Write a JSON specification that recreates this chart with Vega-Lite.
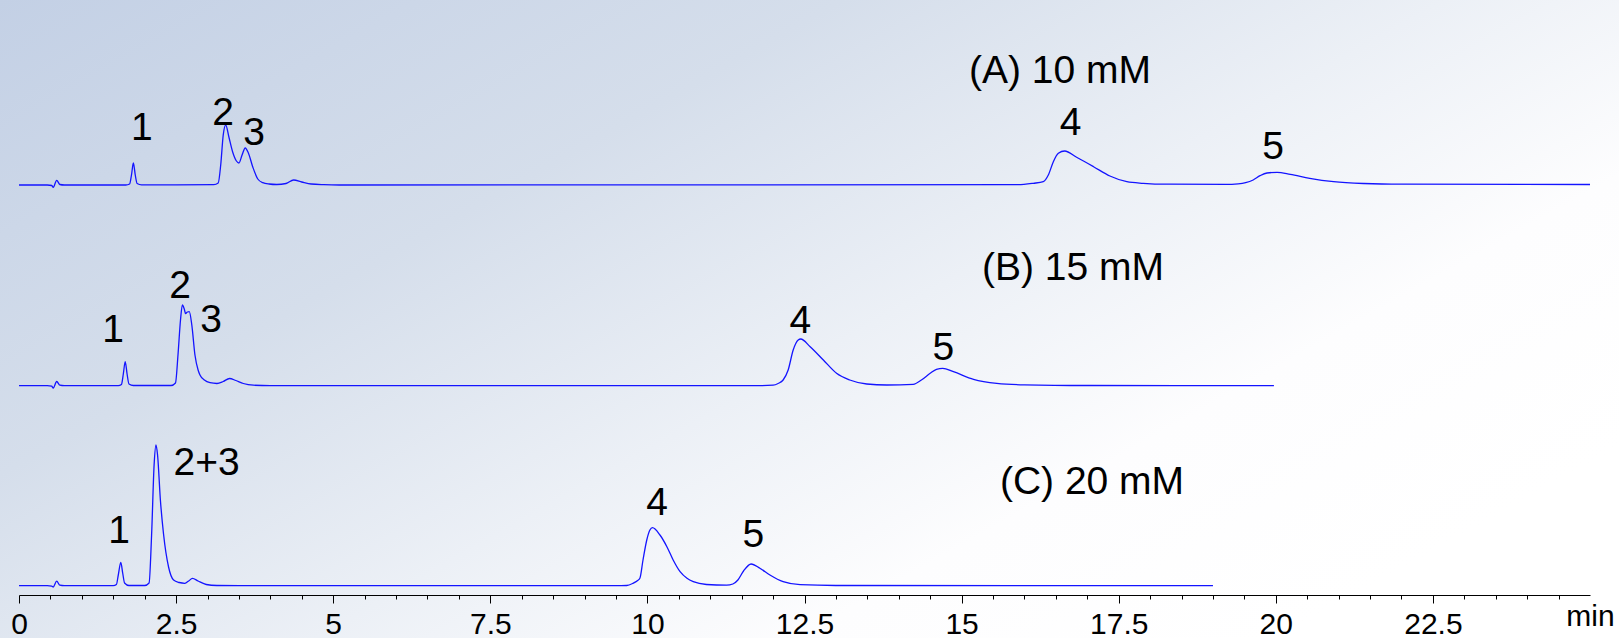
{
  "$schema": "https://vega.github.io/schema/vega-lite/v6.json",
  "width": 1571,
  "height": 581,
  "autosize": {"type": "none"},
  "padding": {"left": 19, "top": 14, "right": 29, "bottom": 43},
  "background": "#ffffff",
  "config": {"view": {"stroke": null}, "font": "Liberation Sans"},
  "datasets": {
    "traces": [
      {"trace":"A","t":0,"v":410},{"trace":"A","t":0.45,"v":410},{"trace":"A","t":0.52,"v":409.5},{"trace":"A","t":0.545,"v":407.7},{"trace":"A","t":0.6,"v":414.7},{"trace":"A","t":0.65,"v":410.5},{"trace":"A","t":0.72,"v":410},
      {"trace":"A","t":1.70,"v":410},{"trace":"A","t":1.76,"v":411},{"trace":"A","t":1.79,"v":420},{"trace":"A","t":1.82,"v":432},{"trace":"A","t":1.85,"v":420},{"trace":"A","t":1.88,"v":411.5},{"trace":"A","t":1.95,"v":410.2},
      {"trace":"A","t":3.10,"v":410.3},{"trace":"A","t":3.17,"v":412},{"trace":"A","t":3.21,"v":430},{"trace":"A","t":3.25,"v":460},{"trace":"A","t":3.29,"v":470},{"trace":"A","t":3.34,"v":458},{"trace":"A","t":3.40,"v":443},{"trace":"A","t":3.46,"v":434},{"trace":"A","t":3.50,"v":432},{"trace":"A","t":3.55,"v":440},{"trace":"A","t":3.60,"v":447},{"trace":"A","t":3.65,"v":442},{"trace":"A","t":3.72,"v":428},{"trace":"A","t":3.80,"v":416},{"trace":"A","t":3.88,"v":412.3},{"trace":"A","t":3.98,"v":411},{"trace":"A","t":4.10,"v":410.5},{"trace":"A","t":4.25,"v":411.5},{"trace":"A","t":4.37,"v":415},{"trace":"A","t":4.50,"v":413},{"trace":"A","t":4.65,"v":411},{"trace":"A","t":4.85,"v":410.3},{"trace":"A","t":5.1,"v":410},
      {"trace":"A","t":15.9,"v":410.3},{"trace":"A","t":16.14,"v":411.7},{"trace":"A","t":16.30,"v":413.3},{"trace":"A","t":16.38,"v":420},{"trace":"A","t":16.46,"v":433.3},{"trace":"A","t":16.54,"v":441.7},{"trace":"A","t":16.64,"v":444},{"trace":"A","t":16.83,"v":437.7},{"trace":"A","t":17.10,"v":428.3},{"trace":"A","t":17.36,"v":419},{"trace":"A","t":17.63,"v":413.3},{"trace":"A","t":17.89,"v":411.7},{"trace":"A","t":18.26,"v":410.8},
      {"trace":"A","t":19.2,"v":410.7},{"trace":"A","t":19.40,"v":411.2},{"trace":"A","t":19.52,"v":412.3},{"trace":"A","t":19.64,"v":415},{"trace":"A","t":19.75,"v":419.3},{"trace":"A","t":19.86,"v":422},{"trace":"A","t":20.02,"v":422.7},{"trace":"A","t":20.23,"v":420.7},{"trace":"A","t":20.54,"v":416.7},{"trace":"A","t":20.92,"v":413.3},{"trace":"A","t":21.4,"v":411.5},{"trace":"A","t":22.0,"v":410.8},{"trace":"A","t":25.0,"v":410.5},

      {"trace":"B","t":0,"v":209.3},{"trace":"B","t":0.45,"v":209.3},{"trace":"B","t":0.52,"v":208.8},{"trace":"B","t":0.545,"v":207},{"trace":"B","t":0.6,"v":213.5},{"trace":"B","t":0.65,"v":209.8},{"trace":"B","t":0.72,"v":209.3},
      {"trace":"B","t":1.58,"v":209.3},{"trace":"B","t":1.63,"v":210.5},{"trace":"B","t":1.66,"v":221},{"trace":"B","t":1.69,"v":233.3},{"trace":"B","t":1.72,"v":221},{"trace":"B","t":1.75,"v":211},{"trace":"B","t":1.82,"v":209.5},
      {"trace":"B","t":2.42,"v":209.5},{"trace":"B","t":2.49,"v":212},{"trace":"B","t":2.53,"v":240},{"trace":"B","t":2.57,"v":275},{"trace":"B","t":2.60,"v":290},{"trace":"B","t":2.63,"v":286},{"trace":"B","t":2.65,"v":281.5},{"trace":"B","t":2.68,"v":283},{"trace":"B","t":2.71,"v":283.3},{"trace":"B","t":2.75,"v":270},{"trace":"B","t":2.80,"v":240},{"trace":"B","t":2.85,"v":225},{"trace":"B","t":2.88,"v":220},{"trace":"B","t":2.95,"v":215},{"trace":"B","t":3.04,"v":212.3},{"trace":"B","t":3.15,"v":211.5},{"trace":"B","t":3.25,"v":213.5},{"trace":"B","t":3.35,"v":216.5},{"trace":"B","t":3.45,"v":214.5},{"trace":"B","t":3.57,"v":211.5},{"trace":"B","t":3.73,"v":209.8},{"trace":"B","t":4.0,"v":209.3},
      {"trace":"B","t":11.8,"v":209.3},{"trace":"B","t":12.0,"v":209.8},{"trace":"B","t":12.08,"v":211.5},{"trace":"B","t":12.16,"v":215},{"trace":"B","t":12.24,"v":225},{"trace":"B","t":12.32,"v":245},{"trace":"B","t":12.40,"v":255},{"trace":"B","t":12.44,"v":256},{"trace":"B","t":12.59,"v":248.3},{"trace":"B","t":12.80,"v":235},{"trace":"B","t":13.01,"v":221.7},{"trace":"B","t":13.22,"v":215},{"trace":"B","t":13.49,"v":211},{"trace":"B","t":13.81,"v":210},{"trace":"B","t":14.23,"v":210.7},{"trace":"B","t":14.36,"v":215},{"trace":"B","t":14.50,"v":221.7},{"trace":"B","t":14.60,"v":225.7},{"trace":"B","t":14.70,"v":226.7},{"trace":"B","t":14.87,"v":223.3},{"trace":"B","t":15.19,"v":215.7},{"trace":"B","t":15.56,"v":211.7},{"trace":"B","t":16.0,"v":210.2},{"trace":"B","t":17.0,"v":209.5},{"trace":"B","t":19.97,"v":209.3},

      {"trace":"C","t":0,"v":9.3},{"trace":"C","t":0.45,"v":9.3},{"trace":"C","t":0.52,"v":8.8},{"trace":"C","t":0.545,"v":8},{"trace":"C","t":0.6,"v":13.8},{"trace":"C","t":0.65,"v":9.8},{"trace":"C","t":0.72,"v":9.3},
      {"trace":"C","t":1.50,"v":9.3},{"trace":"C","t":1.55,"v":10.5},{"trace":"C","t":1.58,"v":20},{"trace":"C","t":1.62,"v":32.7},{"trace":"C","t":1.65,"v":22},{"trace":"C","t":1.68,"v":12},{"trace":"C","t":1.75,"v":9.5},
      {"trace":"C","t":2.00,"v":9.5},{"trace":"C","t":2.07,"v":12},{"trace":"C","t":2.11,"v":60},{"trace":"C","t":2.15,"v":130},{"trace":"C","t":2.18,"v":150},{"trace":"C","t":2.205,"v":140},{"trace":"C","t":2.25,"v":95},{"trace":"C","t":2.30,"v":61},{"trace":"C","t":2.38,"v":28},{"trace":"C","t":2.46,"v":15},{"trace":"C","t":2.55,"v":12.5},{"trace":"C","t":2.64,"v":11.7},{"trace":"C","t":2.70,"v":14},{"trace":"C","t":2.76,"v":16.7},{"trace":"C","t":2.85,"v":14},{"trace":"C","t":2.98,"v":10.5},{"trace":"C","t":3.15,"v":9.5},{"trace":"C","t":3.5,"v":9.3},
      {"trace":"C","t":9.5,"v":9.3},{"trace":"C","t":9.67,"v":9.5},{"trace":"C","t":9.77,"v":11.7},{"trace":"C","t":9.84,"v":14.3},{"trace":"C","t":9.88,"v":16.7},{"trace":"C","t":9.93,"v":35},{"trace":"C","t":9.99,"v":55},{"trace":"C","t":10.04,"v":65},{"trace":"C","t":10.08,"v":67.3},{"trace":"C","t":10.20,"v":60},{"trace":"C","t":10.31,"v":48.3},{"trace":"C","t":10.41,"v":35},{"trace":"C","t":10.52,"v":23.3},{"trace":"C","t":10.63,"v":16.7},{"trace":"C","t":10.73,"v":13.3},{"trace":"C","t":10.94,"v":10.5},{"trace":"C","t":11.26,"v":9.8},
      {"trace":"C","t":11.36,"v":11},{"trace":"C","t":11.44,"v":15},{"trace":"C","t":11.53,"v":24},{"trace":"C","t":11.65,"v":31},{"trace":"C","t":11.79,"v":26.7},{"trace":"C","t":11.95,"v":20},{"trace":"C","t":12.16,"v":13.3},{"trace":"C","t":12.43,"v":10.3},{"trace":"C","t":13.0,"v":9.5},{"trace":"C","t":19.0,"v":9.3}
    ],
    "labels": [
      {"t":1.953,"v":455,"label":"1"},
      {"t":3.246,"v":470,"label":"2"},
      {"t":3.74,"v":450,"label":"3"},
      {"t":16.736,"v":460,"label":"4"},
      {"t":19.955,"v":435.7,"label":"5"},
      {"t":16.566,"v":512.3,"label":"(A) 10 mM"},
      {"t":1.496,"v":253.3,"label":"1"},
      {"t":2.562,"v":296.7,"label":"2"},
      {"t":3.055,"v":263.3,"label":"3"},
      {"t":12.433,"v":261.7,"label":"4"},
      {"t":14.71,"v":235,"label":"5"},
      {"t":16.773,"v":315,"label":"(B) 15 mM"},
      {"t":1.592,"v":52.3,"label":"1"},
      {"t":2.987,"v":120,"label":"2+3"},
      {"t":10.153,"v":80,"label":"4"},
      {"t":11.685,"v":48.3,"label":"5"},
      {"t":17.075,"v":101.5,"label":"(C) 20 mM"}
    ]
  },
  "resolve": {"axis": {"x": "independent"}},
  "layer": [
    {
      "data": {"values": [{}]},
      "mark": {
        "type": "rect",
        "color": {
          "gradient": "linear",
          "x1": 0, "y1": 0, "x2": 1, "y2": 0.7,
          "stops": [
            {"offset": 0, "color": "#c3d0e5"},
            {"offset": 0.35, "color": "#d5deeb"},
            {"offset": 0.6, "color": "#ecf0f6"},
            {"offset": 0.8, "color": "#fdfdfe"},
            {"offset": 1, "color": "#ffffff"}
          ]
        }
      },
      "encoding": {
        "x": {"datum": -0.32, "type": "quantitative", "axis": null},
        "x2": {"datum": 25.48},
        "y": {"datum": -44, "type": "quantitative", "axis": null},
        "y2": {"datum": 596}
      }
    },
    {
      "data": {"name": "traces"},
      "mark": {"type": "line", "color": "#1414ff", "strokeWidth": 1.3, "interpolate": "monotone"},
      "encoding": {
        "x": {
          "field": "t", "type": "quantitative",
          "scale": {"domain": [0, 25], "nice": false, "zero": false},
          "axis": {
            "orient": "bottom",
            "title": null,
            "values": [0, 2.5, 5, 7.5, 10, 12.5, 15, 17.5, 20, 22.5, 25],
            "format": ".1~f",
            "labelExpr": "datum.value == 25 ? 'min' : datum.label",
            "labelOverlap": false,
            "labelFlush": false,
            "labelFontSize": 30,
            "labelFont": "Liberation Sans",
            "labelColor": "#000000",
            "labelPadding": 6,
            "tickSize": {"condition": {"test": "datum.value == 25", "value": 0}, "value": 8},
            "tickColor": "#000000",
            "tickWidth": 1,
            "domainColor": "#000000",
            "domainWidth": 1.2,
            "grid": false,
            "zindex": 2
          }
        },
        "y": {
          "field": "v", "type": "quantitative",
          "scale": {"domain": [0, 581], "nice": false, "zero": false},
          "axis": {
            "title": null, "labels": false, "ticks": false, "grid": false,
            "domainColor": "#000000", "domainWidth": 1.2, "zindex": 2
          }
        },
        "detail": {"field": "trace"}
      }
    },
    {
      "data": {"name": "labels"},
      "mark": {"type": "text", "font": "Liberation Sans", "fontSize": 39, "color": "#000000", "align": "center", "baseline": "alphabetic"},
      "encoding": {
        "x": {
          "field": "t", "type": "quantitative",
          "axis": {
            "orient": "bottom",
            "title": null,
            "values": [0.5,1,1.5,2,3,3.5,4,4.5,5.5,6,6.5,7,8,8.5,9,9.5,10.5,11,11.5,12,13,13.5,14,14.5,15.5,16,16.5,17,18,18.5,19,19.5,20.5,21,21.5,22,23,23.5,24,24.5],
            "labels": false,
            "domain": false,
            "grid": false,
            "tickSize": 4,
            "tickColor": "#000000",
            "tickWidth": 1,
            "zindex": 2
          }
        },
        "y": {"field": "v", "type": "quantitative", "axis": null},
        "text": {"field": "label"}
      }
    }
  ]
}
